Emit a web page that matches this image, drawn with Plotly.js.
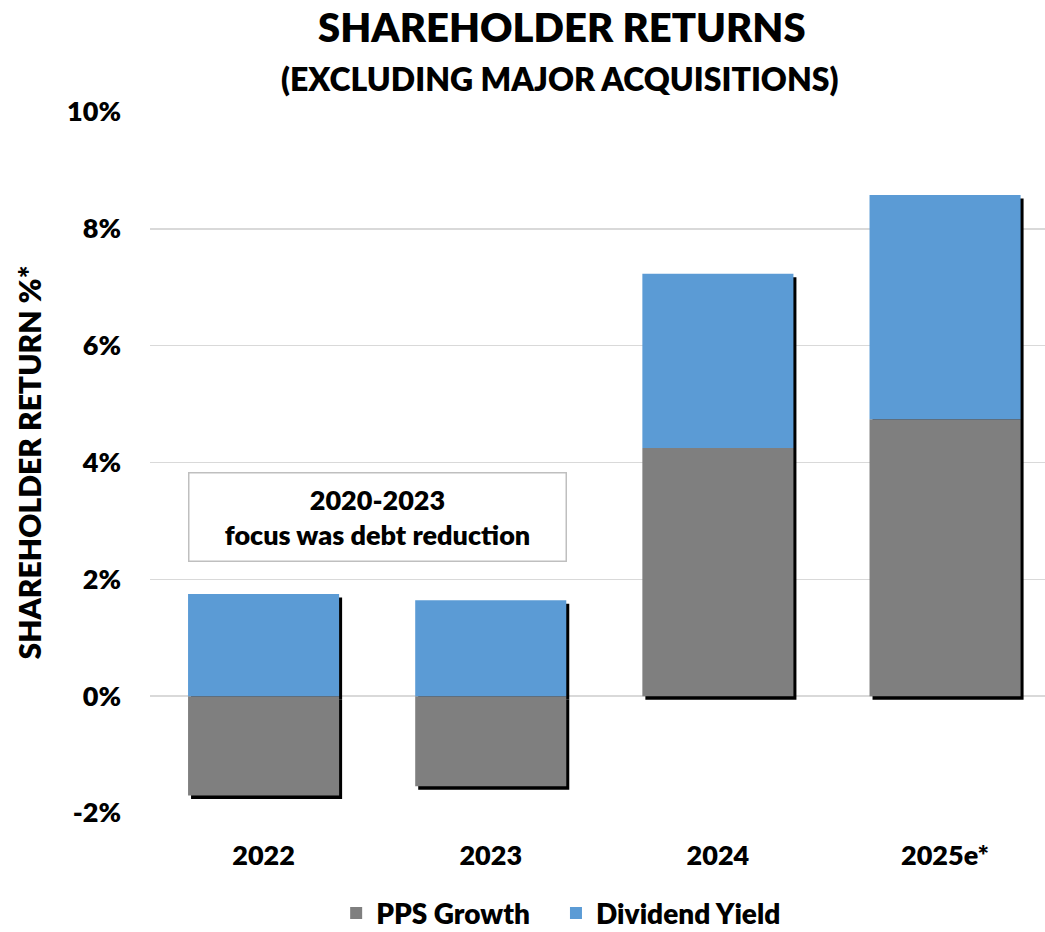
<!DOCTYPE html>
<html>
<head>
<meta charset="utf-8">
<script src="https://cdn.plot.ly/plotly-3.0.1.min.js"></script>
<style>html,body{margin:0;padding:0;background:#fff;}#chart{width:1045px;height:932px;}</style>
</head>
<body>
<div id="chart"></div>
<script>
const categories = ["2022", "2023", "2024", "2025e*"];
const ppsGrowth = [-1.70, -1.54, 4.25, 4.74];
const dividendYield = [1.75, 1.64, 2.98, 3.84];
const yTicks = [-2, 0, 2, 4, 6, 8, 10];

const FONT = "Lato, 'Open Sans', sans-serif";
const W = 800;
const GRAY = "#7f7f7f";
const BLUE = "#5b9bd5";

// shadow extents derived from the data
const posTotal = categories.map((c, i) => Math.max(ppsGrowth[i], 0) + Math.max(dividendYield[i], 0));
const negTotal = categories.map((c, i) => Math.min(ppsGrowth[i], 0) + Math.min(dividendYield[i], 0));

const xr = [-0.5, 3.44];
const yr = [-2, 10];
const dx = 3 / 227;
const dy = 3.5 / 58.4;

const traces = [
  {type: "bar", x: categories, y: posTotal, marker: {color: "#000"}, width: 0.665, showlegend: false, hoverinfo: "skip", xaxis: "x", yaxis: "y"},
  {type: "bar", x: categories, y: negTotal, marker: {color: "#000"}, width: 0.665, showlegend: false, hoverinfo: "skip", xaxis: "x", yaxis: "y"},
  {type: "bar", name: "PPS Growth", x: categories, y: ppsGrowth, marker: {color: GRAY}, width: 0.665, xaxis: "x2", yaxis: "y2", legend: "legend"},
  {type: "bar", name: "Dividend Yield", x: categories, y: dividendYield, marker: {color: BLUE}, width: 0.665, xaxis: "x2", yaxis: "y2", legend: "legend2"}
];

const legendFont = {family: FONT, size: 28, color: "#000", weight: W};

const layout = {
  width: 1045, height: 932,
  margin: {l: 150, r: 0, t: 112, b: 119, autoexpand: false},
  paper_bgcolor: "#fff", plot_bgcolor: "rgba(0,0,0,0)",
  barmode: "relative",
  font: {family: FONT, color: "#000", size: 24},
  xaxis: {type: "category", categoryarray: categories, range: [xr[0] - dx, xr[1] - dx], visible: false, fixedrange: true},
  yaxis: {range: [yr[0] + dy, yr[1] + dy], visible: false, fixedrange: true},
  xaxis2: {type: "category", categoryarray: categories, overlaying: "x", range: xr, showgrid: false, zeroline: false, showline: false, ticks: "", ticklabelstandoff: 24, automargin: false,
    tickfont: {family: FONT, size: 27, color: "#000", weight: W}},
  yaxis2: {overlaying: "y", side: "left", range: yr, tickvals: yTicks, ticktext: yTicks.map(v => v + "%"), showgrid: true, gridcolor: "#d9d9d9", gridwidth: 1.5,
    zeroline: false, showline: false, ticks: "", ticklabelstandoff: 28, automargin: false,
    tickfont: {family: FONT, size: 27, color: "#000", weight: W},
    title: {text: "SHAREHOLDER RETURN %*", font: {family: FONT, size: 30, color: "#000", weight: W}, standoff: 16}},
  showlegend: true,
  legend: {orientation: "h", x: 0.208, xanchor: "left", y: -0.143, yanchor: "middle", font: legendFont, itemwidth: 30},
  legend2: {orientation: "h", x: 0.4536, xanchor: "left", y: -0.143, yanchor: "middle", font: legendFont, itemwidth: 30},
  annotations: [
    {xref: "paper", yref: "paper", x: 0.46, y: 1.0, yshift: 85, xanchor: "center", yanchor: "middle", showarrow: false,
      text: "SHAREHOLDER RETURNS", font: {family: FONT, size: 40, color: "#000", weight: W}},
    {xref: "paper", yref: "paper", x: 0.458, y: 1.0, yshift: 34, xanchor: "center", yanchor: "middle", showarrow: false,
      text: "(EXCLUDING MAJOR ACQUISITIONS)", font: {family: FONT, size: 32, color: "#000", weight: W}},
    {xref: "x2", yref: "y2", x: 0.5, y: 3.06, xanchor: "center", yanchor: "middle", showarrow: false,
      text: "2020-2023<br>focus was debt reduction", align: "center", width: 372, height: 83,
      bgcolor: "#fff", bordercolor: "#bfbfbf", borderwidth: 1.5, borderpad: 2,
      font: {family: FONT, size: 27, color: "#000", weight: W}}
  ]
};

Plotly.newPlot("chart", traces, layout, {displayModeBar: false, staticPlot: true});
</script>
</body>
</html>
